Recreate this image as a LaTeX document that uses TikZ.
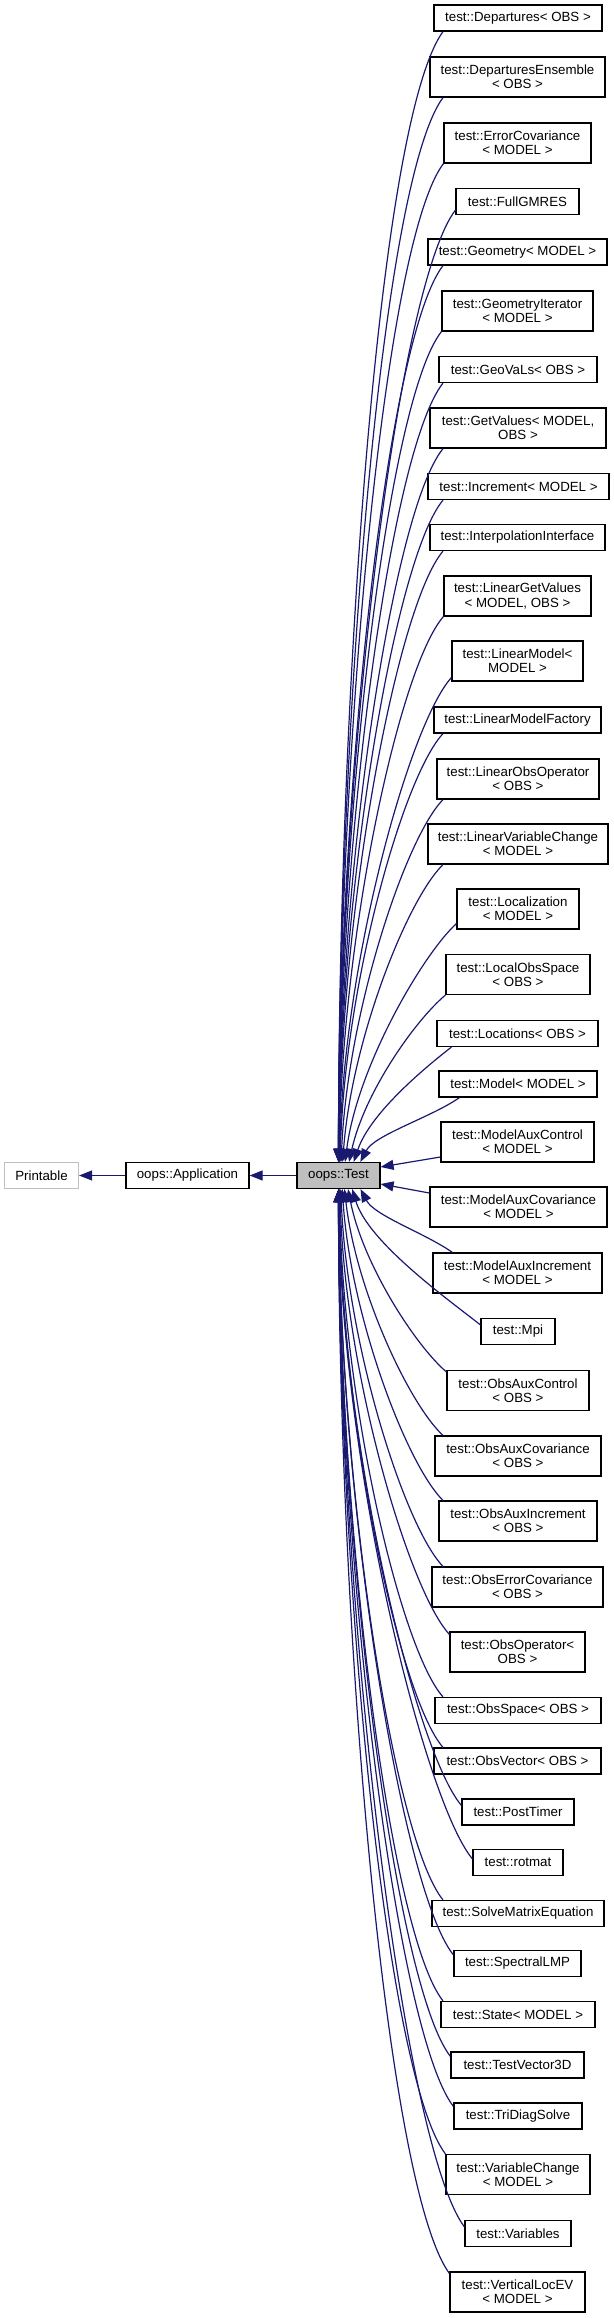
\documentclass[tikz,border=0pt]{standalone}
\usepackage{fontspec}
\setmainfont{Liberation Sans}
\usetikzlibrary{arrows.meta}
\definecolor{navy}{HTML}{191970}
\definecolor{grayfill}{HTML}{BFBFBF}
\newcommand\upedge[2]{%
  \pgfmathsetmacro\edS{35*exp(-#1/140)}%
  \pgfmathsetmacro\edH{0.41*#1}%
  \pgfmathsetmacro\edF{0.41*#1*0.9*exp(-#1/120)}%
  \pgfmathsetmacro\edX{-(25+0.035*#1)}%
  \pgfmathsetmacro\edY{15+0.065*#1}%
  \draw[inh] ([xshift=\edS pt]Test.north) .. controls +(\edF,-\edH) and +(\edX,\edY) .. #2;}
\newcommand\downedge[2]{%
  \pgfmathsetmacro\edS{35*exp(-#1/140)}%
  \pgfmathsetmacro\edH{0.41*#1}%
  \pgfmathsetmacro\edF{0.41*#1*0.9*exp(-#1/120)}%
  \pgfmathsetmacro\edX{-(25+0.035*#1)}%
  \pgfmathsetmacro\edY{15+0.065*#1}%
  \draw[inh] ([xshift=\edS pt]Test.south) .. controls +(\edF,\edH) and +(\edX,-\edY) .. #2;}
\begin{document}
\begin{tikzpicture}[x=1pt,y=-1pt,
  cls/.style={draw=black, line width=1.2pt, fill=white, inner sep=0pt, align=center,
    font=\fontsize{13.3}{14.3}\selectfont, minimum height=26pt},
  two/.style={minimum height=40pt},
  inh/.style={draw=navy, line width=1.2pt, {Triangle[length=13pt,width=10pt]}-}]
\useasboundingbox (0,0) rectangle (613,2318);
\coordinate (gx) at (443,0);

% left chain
\node[cls, draw=grayfill, minimum width=74pt] (Printable) at (41.5,1175.5) {Printable};
\node[cls, minimum width=123pt] (Application) at (187.5,1175.5) {oops::Application};
\node[cls, fill=grayfill, minimum width=83pt] (Test) at (338.5,1175.5) {oops::Test};

% derived classes
\node[cls, minimum width=168pt] (dep) at (518,18) {test::Departures< OBS >};
\node[cls, two, minimum width=175pt] (depens) at (517.5,77) {test::DeparturesEnsemble\\< OBS >};
\node[cls, two, minimum width=147pt] (errcov) at (517.5,143) {test::ErrorCovariance\\< MODEL >};
\node[cls, minimum width=123pt] (fullg) at (517.5,201.5) {test::FullGMRES};
\node[cls, minimum width=179pt] (geom) at (517.5,252) {test::Geometry< MODEL >};
\node[cls, two, minimum width=151pt] (geomit) at (517.5,311) {test::GeometryIterator\\< MODEL >};
\node[cls, minimum width=158pt] (geovals) at (518,369.5) {test::GeoVaLs< OBS >};
\node[cls, two, minimum width=176pt] (getval) at (518,428) {test::GetValues< MODEL,\\OBS >};
\node[cls, minimum width=181pt] (incr) at (518.5,486.5) {test::Increment< MODEL >};
\node[cls, minimum width=175pt] (interp) at (517.5,537.5) {test::InterpolationInterface};
\node[cls, two, minimum width=147pt] (lingv) at (517.5,596) {test::LinearGetValues\\< MODEL, OBS >};
\node[cls, two, minimum width=131pt] (linmod) at (517.5,661) {test::LinearModel<\\MODEL >};
\node[cls, minimum width=167pt] (linmf) at (517.5,720) {test::LinearModelFactory};
\node[cls, two, minimum width=162pt] (linobs) at (518,779) {test::LinearObsOperator\\< OBS >};
\node[cls, two, minimum width=180pt] (linvc) at (518,844) {test::LinearVariableChange\\< MODEL >};
\node[cls, two, minimum width=122pt] (locz) at (518,909) {test::Localization\\< MODEL >};
\node[cls, two, minimum width=144pt] (locobs) at (518,974.5) {test::LocalObsSpace\\< OBS >};
\node[cls, minimum width=161pt] (locs) at (517.5,1033.5) {test::Locations< OBS >};
\node[cls, minimum width=158pt] (model) at (518,1084) {test::Model< MODEL >};
\node[cls, two, minimum width=153pt] (mauxctl) at (517.5,1142) {test::ModelAuxControl\\< MODEL >};
\node[cls, two, minimum width=177pt] (mauxcov) at (518.5,1207) {test::ModelAuxCovariance\\< MODEL >};
\node[cls, two, minimum width=169pt] (mauxinc) at (517.5,1273) {test::ModelAuxIncrement\\< MODEL >};
\node[cls, minimum width=74pt] (mpi) at (518,1331.5) {test::Mpi};
\node[cls, two, minimum width=142pt] (oauxctl) at (518,1390.5) {test::ObsAuxControl\\< OBS >};
\node[cls, two, minimum width=166pt] (oauxcov) at (518,1456) {test::ObsAuxCovariance\\< OBS >};
\node[cls, two, minimum width=158pt] (oauxinc) at (518,1521) {test::ObsAuxIncrement\\< OBS >};
\node[cls, two, minimum width=171pt] (oerrcov) at (517.5,1587) {test::ObsErrorCovariance\\< OBS >};
\node[cls, two, minimum width=135pt] (obsop) at (517.5,1652) {test::ObsOperator<\\OBS >};
\node[cls, minimum width=166pt] (obssp) at (518,1710.5) {test::ObsSpace< OBS >};
\node[cls, minimum width=167pt] (obsvec) at (517.5,1761) {test::ObsVector< OBS >};
\node[cls, minimum width=112pt] (postt) at (518,1812) {test::PostTimer};
\node[cls, minimum width=90pt] (rotmat) at (518,1862.5) {test::rotmat};
\node[cls, minimum width=172pt] (solve) at (518,1913.5) {test::SolveMatrixEquation};
\node[cls, minimum width=127pt] (spec) at (517.5,1963.5) {test::SpectralLMP};
\node[cls, minimum width=154pt] (state) at (518,2014.5) {test::State< MODEL >};
\node[cls, minimum width=133pt] (tv3d) at (517.5,2065) {test::TestVector3D};
\node[cls, minimum width=128pt] (tridiag) at (518,2116) {test::TriDiagSolve};
\node[cls, two, minimum width=144pt] (varch) at (518,2174.5) {test::VariableChange\\< MODEL >};
\node[cls, minimum width=106pt] (vars) at (518,2233.5) {test::Variables};
\node[cls, two, minimum width=135pt] (vertloc) at (517.5,2292) {test::VerticalLocEV\\< MODEL >};

% inheritance edges, left chain
\draw[inh] (Printable) -- (Application);
\draw[inh] (Application) -- (Test);

% upper edges
\upedge{1132}{(dep.south west -| gx)}
\upedge{1066}{(depens.south west -| gx)}
\upedge{1000}{(errcov.south west)}
\upedge{949}{([yshift=5pt]fullg.south west)}
\upedge{898}{(geom.south west -| gx)}
\upedge{832}{(geomit.south west)}
\upedge{781}{(geovals.south west -| gx)}
\upedge{715}{(getval.south west -| gx)}
\upedge{664}{(incr.south west -| gx)}
\upedge{613}{(interp.south west -| gx)}
\upedge{547}{(lingv.south west)}
\upedge{482}{([yshift=4pt]linmod.south west)}
\upedge{430}{(linmf.south west -| gx)}
\upedge{364}{(linobs.south west -| gx)}
\upedge{299}{(linvc.south west -| gx)}
\upedge{234}{([yshift=6pt]locz.south west)}
\upedge{168}{(locobs.south west)}
\upedge{117}{([xshift=15pt]locs.south west)}
\upedge{66}{([xshift=21pt]model.south west)}

% side edges
\draw[inh] ([yshift=8.5pt]Test.east) -- ([yshift=-15pt]mauxctl.west);
\draw[inh] ([yshift=-8.5pt]Test.east) -- ([yshift=14pt]mauxcov.west);

% lower edges
\downedge{65}{([xshift=20pt]mauxinc.north west)}
\downedge{131}{([yshift=-7pt]mpi.north west)}
\downedge{182}{([yshift=-2pt]oauxctl.north west)}
\downedge{248}{(oauxcov.north west -| gx)}
\downedge{313}{(oauxinc.north west -| gx)}
\downedge{379}{(oerrcov.north west -| gx)}
\downedge{444}{([yshift=-3pt]obsop.north west)}
\downedge{510}{(obssp.north west -| gx)}
\downedge{560}{(obsvec.north west -| gx)}
\downedge{611}{([yshift=-7pt]postt.north west)}
\downedge{662}{([yshift=-10pt]rotmat.north west)}
\downedge{713}{(solve.north west -| gx)}
\downedge{763}{([yshift=-5pt]spec.north west)}
\downedge{814}{(state.north west -| gx)}
\downedge{864}{([yshift=-5pt]tv3d.north west)}
\downedge{915}{([yshift=-4pt]tridiag.north west)}
\downedge{966}{(varch.north west)}
\downedge{1033}{([yshift=-7pt]vars.north west)}
\downedge{1084}{([yshift=-2pt]vertloc.north west)}
\end{tikzpicture}
\end{document}
